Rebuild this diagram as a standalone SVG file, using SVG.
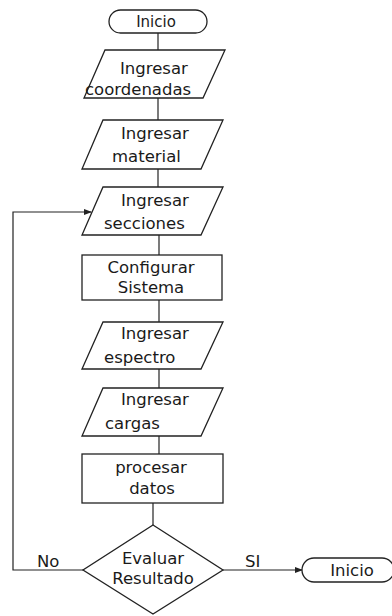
<svg xmlns="http://www.w3.org/2000/svg" width="392" height="616" viewBox="0 0 392 616">
<style>
.s{fill:#fff;stroke:#222;stroke-width:1.3}
.t{font-family:"DejaVu Sans",Verdana,sans-serif;font-size:16.5px;fill:#1a1a1a}
.m{text-anchor:middle}
.c{fill:none;stroke:#222;stroke-width:1.2}
</style>
<defs>
<marker id="ah" markerWidth="8" markerHeight="6" refX="7" refY="3" orient="auto" markerUnits="userSpaceOnUse">
<path d="M0,0 L8,3 L0,6 z" fill="#222"/>
</marker>
</defs>
<rect width="392" height="616" fill="#fff"/>
<g id="connectors">
<line class="c" x1="158" y1="33" x2="158" y2="50"/>
<line class="c" x1="158" y1="98" x2="158" y2="120"/>
<line class="c" x1="158" y1="169" x2="158" y2="187"/>
<line class="c" x1="159" y1="235" x2="159" y2="255"/>
<line class="c" x1="159" y1="300" x2="159" y2="322"/>
<line class="c" x1="159" y1="369" x2="159" y2="388"/>
<line class="c" x1="159" y1="436" x2="159" y2="454"/>
<line class="c" x1="153" y1="503" x2="153" y2="525"/>
<line class="c" x1="223" y1="570" x2="302" y2="570" marker-end="url(#ah)"/>
<polyline class="c" points="83,570 13,570 13,212 91,212" marker-end="url(#ah)"/>
</g>
<g id="inicio">
<rect class="s" x="109" y="10" width="98" height="23" rx="11.5"/>
<text class="t m" x="156" y="27" style="font-size:15px">Inicio</text>
</g>
<g id="coordenadas">
<polygon class="s" points="105,50 225,50 203,98 84,98"/>
<text class="t" x="120" y="74">Ingresar</text>
<text class="t" x="85" y="95">coordenadas</text>
</g>
<g id="material">
<polygon class="s" points="103,120 223,120 201,169 82,169"/>
<text class="t" x="121" y="139">Ingresar</text>
<text class="t" x="112" y="162">material</text>
</g>
<g id="secciones">
<polygon class="s" points="103,187 223,187 201,235 82,235"/>
<text class="t" x="121" y="206">Ingresar</text>
<text class="t" x="104" y="229">secciones</text>
</g>
<g id="configurar">
<rect class="s" x="82" y="255" width="140" height="45"/>
<text class="t m" x="151" y="273">Configurar</text>
<text class="t m" x="151" y="293">Sistema</text>
</g>
<g id="espectro">
<polygon class="s" points="103,322 223,322 201,369 82,369"/>
<text class="t" x="121" y="339">Ingresar</text>
<text class="t" x="104" y="363">espectro</text>
</g>
<g id="cargas">
<polygon class="s" points="103,388 223,388 201,436 82,436"/>
<text class="t" x="121" y="405">Ingresar</text>
<text class="t" x="105" y="429">cargas</text>
</g>
<g id="procesar">
<rect class="s" x="82" y="454" width="141" height="49"/>
<text class="t m" x="151" y="473">procesar</text>
<text class="t m" x="152" y="494">datos</text>
</g>
<g id="evaluar">
<polygon class="s" points="153,525 223,570 153,614 83,570"/>
<text class="t m" x="153" y="564">Evaluar</text>
<text class="t m" x="153" y="584">Resultado</text>
</g>
<g id="labels">
<text class="t" x="37" y="567">No</text>
<text class="t" x="245" y="567">SI</text>
</g>
<g id="inicio-fin">
<rect class="s" x="302" y="558" width="92" height="24" rx="12"/>
<text class="t m" x="352" y="576">Inicio</text>
</g>
</svg>
